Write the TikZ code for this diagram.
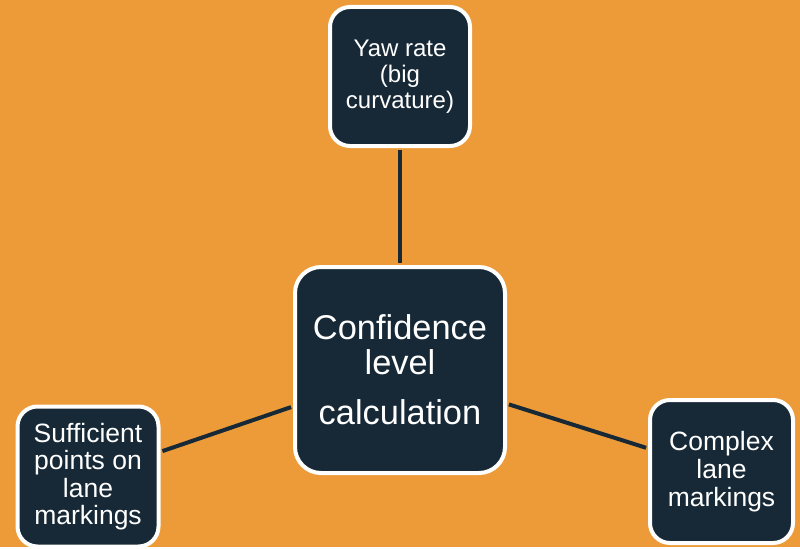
\documentclass[tikz,border=0pt]{standalone}
\usepackage{fontspec}
\setmainfont{Liberation Sans}
\usepackage{tikz}
\usetikzlibrary{calc}
\usetikzlibrary{positioning}
\definecolor{tangerine}{RGB}{236, 155, 56}
\definecolor{midnight}{RGB}{23, 41, 54}

\tikzset{
    cardbox/.style={draw=white, fill=midnight, line width=4pt, rounded corners=20pt,
                    inner sep=0pt, align=center, text=white},
    linkline/.style={draw=midnight, line width=4pt, shorten <=2pt, shorten >=2pt}
}

\begin{document}
\begin{tikzpicture}[x=1pt, y=-1pt]
            % Frame to ensure alignment:
            \fill[tangerine]                                         (  0.00,   0.00) rectangle (800.00, 547.00);
            \node[cardbox, minimum width=210pt, minimum height=206pt, rounded corners=26pt,
                  font=\fontsize{34.4}{35}\selectfont] (calc)        at (400.00, 370.00) {Confidence\\level\\[15pt]calculation};
            \node[cardbox, minimum width=140pt, minimum height=139pt,
                  font=\fontsize{24}{26}\selectfont]   (yaw)         at (400.00,  76.50) {Yaw rate\\(big\\curvature)};
            \node[cardbox, minimum width=141pt, minimum height=140pt,
                  font=\fontsize{26.5}{27.5}\selectfont] (points)    at ( 88.00, 476.50) {Sufficient\\points on\\lane\\markings};
            \node[cardbox, minimum width=143pt, minimum height=143pt,
                  font=\fontsize{26.5}{28}\selectfont] (complex)     at (721.50, 471.50) {Complex\\lane\\markings};
            % Connectors
            \draw[linkline] (calc) -- (yaw);
            \draw[linkline] (calc) -- (points);
            \draw[linkline] (calc) -- (complex);
        \end{tikzpicture}
\end{document}
